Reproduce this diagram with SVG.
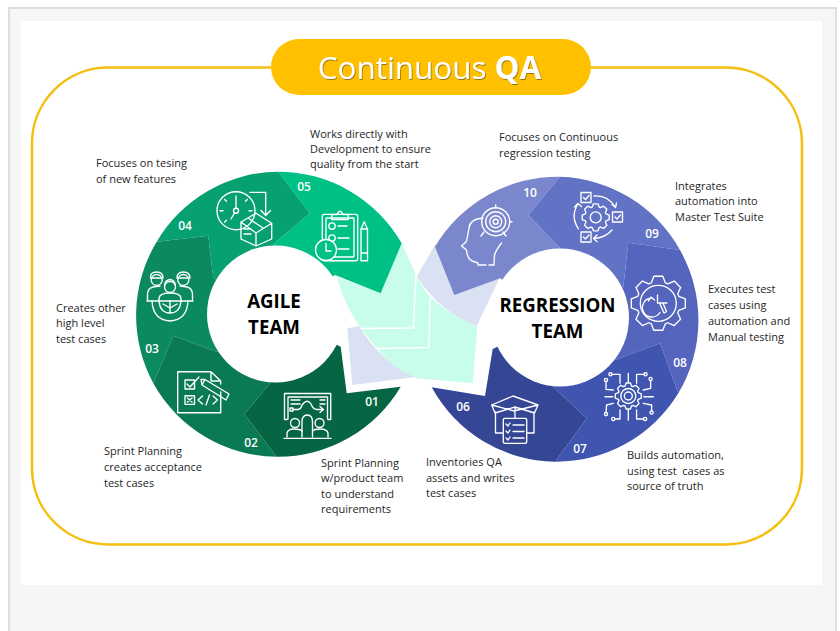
<svg xmlns="http://www.w3.org/2000/svg" width="840" height="631" viewBox="0 0 840 631">
<style>
text{font-family:"Open Sans","Noto Sans","Liberation Sans",sans-serif}
.l{font-size:11px;fill:#262626}
.n{font-size:12px;font-weight:600;fill:#fff;text-anchor:middle}
.t{font-size:18.7px;font-weight:700;fill:#000;text-anchor:middle}
.i,.i *{fill:none;stroke:#fff;stroke-width:1.35;stroke-linecap:round;stroke-linejoin:round}
.g{vector-effect:non-scaling-stroke}
</style>
<defs>
<path id="gear" class="g" d="M-7,-20.5L-4.5,-27 4.5,-27 7,-20.5 9.55,-19.45 15.9,-22.27 22.27,-15.9 19.45,-9.55 20.5,-7 27,-4.5 27,4.5 20.5,7 19.45,9.55 22.27,15.9 15.9,22.27 9.55,19.45 7,20.5 4.5,27 -4.5,27 -7,20.5 -9.55,19.45 -15.9,22.27 -22.27,15.9 -19.45,9.55 -20.5,7 -27,4.5 -27,-4.5 -20.5,-7 -19.45,-9.55 -22.27,-15.9 -15.9,-22.27 -9.55,-19.45Z"/>
<filter id="sh" x="-5%" y="-20%" width="110%" height="140%"><feDropShadow dx="0.8" dy="1" stdDeviation="0.6" flood-color="#7a5c00" flood-opacity="0.75"/></filter>
</defs>
<rect width="840" height="631" fill="#fff"/>
<rect x="9" y="8" width="827" height="630" fill="#f6f6f6" stroke="#dedede" stroke-width="2"/>
<rect x="21" y="21" width="801" height="564" fill="#fff"/>
<rect id="frame" x="32" y="67.5" width="770" height="477" rx="76" fill="none" stroke="#f5bf12" stroke-width="2.5"/>

<g id="overlaps">
<path d="M435,245L416.7,276.7Q440,312 476.7,326L500,277Z" fill="#d9e1f2"/>
<path d="M347.3,328.3L359.3,326Q380,362 416,377L352.3,385Z" fill="#d9e1f2"/>
<path d="M401.7,243.3L381,293.3 336.7,276.7Q344,304 360,327L376.7,348Q392,368 416.7,378.3L472.7,383.3 477.3,326.7Q450,315 431.7,298.3Q422,288 416,275Z" fill="#c8fdec"/>
<path d="M360.5,328.5L413.5,328 416,275M376.7,348.5L429,347.5 430,297" fill="none" stroke="#fff" stroke-width="1.5"/>
</g>

<g id="seg05"><path d="M278.3,171.7A142.5,142.5 0 0 1 401.7,243.3L380.7,293.3 335,275 275,314 273.3,244 310,213.3Z" fill="#00c185"/>
<g class="i"><rect x="322.3" y="214.3" width="35.4" height="46.4" rx="2"/><rect x="326" y="218" width="28" height="39" rx="1"/><path d="M331.7,219.5V214.5H337Q340,208 343,214.5H348.3V219.5Z"/><circle cx="332" cy="226" r="3.2"/><circle cx="332" cy="238" r="3.2"/><path d="M338,226H347M338,238H349M338,249H349"/><path d="M361,260.7V229L364.2,221.7 367.5,229V260.7ZM361,229H367.5M361,253H367.5"/><circle cx="326" cy="250" r="10.5" style="fill:#00c185"/><path d="M326,243.5V251H331"/></g>
<text class="n" x="304" y="191">05</text></g>

<g id="seg04"><path d="M156.7,241.7A142.5,142.5 0 0 1 278.3,171.7L310,213.3 273.3,244 275,314 213.3,278 208.3,235.7Z" fill="#07a070"/>
<g class="i"><circle cx="236" cy="210.7" r="19"/><circle cx="236" cy="210.7" r="2.5"/><path d="M236,208V196M234.5,213L231,219M252,210.7H249M223,210.7H220M247.3,199.4L245.5,201.2M224.7,199.4L226.5,201.2M224.7,222L226.5,220.2"/><path d="M250,192.3H265.7V215M261,210.5L265.7,215.5 270.5,210.5"/><path d="M241,222L256,213.3 271.7,223.3 256,233ZM241,222V239L256,246 271.7,239V223.3M256,233V246M248,218L263,228M244,229H251M244,234H251"/></g>
<text class="n" x="185" y="230">04</text></g>

<g id="seg03"><path d="M153.3,383.3A142.5,142.5 0 0 1 156.7,241.7L208.3,235.7 213.3,278 275,314 216.7,351.7 173.3,335.7Z" fill="#0b8a60"/>
<g class="i"><circle cx="156.7" cy="280" r="5.5"/><circle cx="183.3" cy="280" r="5.5"/><circle cx="170" cy="287" r="5.5"/><path d="M150.5,278Q150,272 156.7,272 163,272 163,278H150.5M177,278Q177,272 183.3,272 190,272 190,278H177M164.5,286Q165,280 170,279.5 175,280 175.5,286"/><path d="M147.5,301V294Q148,288 153,287L160,286M192.5,301V294Q192,288 187,287L180,286M159,301V298Q160,293 170,293 180,293 181,298V301M147,301H193"/><path d="M152,301Q153,320 170,321 187,320 188,301"/><path d="M159,301Q160,313 170,313 180,313 181,301M170,301V313M163,304L170,308 177,304"/></g>
<text class="n" x="152" y="353">03</text></g>

<g id="seg02"><path d="M276.7,456.7A142.5,142.5 0 0 1 153.3,383.3L173.3,335.7 216.7,351.7 275,314 270,383.3 244.3,414.3Z" fill="#0a7a55"/>
<g class="i"><path d="M211,371.7H177.7V412.7H220.7V392M211,371.7V381H220.7V384M211,371.7L220.7,381"/><rect x="185" y="380" width="9.5" height="9"/><path d="M187,384L190,387 199,377"/><rect x="185" y="395.7" width="9.5" height="8.6"/><path d="M187.5,398L192,402M192,398L187.5,402"/><path d="M202.5,396L198,400 202.5,404M206,405L209.5,395M213,396L217.5,400 213,404"/><path d="M202,385L205,379.5 229,394 226,400Z M205,379.5L201,379.5 202,385"/></g>
<text class="n" x="251" y="447">02</text></g>

<g id="seg01"><path d="M400.7,386.7A142.5,142.5 0 0 1 276.7,456.7L244.3,414.3 270,383.3 275,314 340.7,346.7 346.7,393.3Z" fill="#066644"/>
<g class="i"><path d="M287,419.5H284.5V393.5H330.7V419.5H328M288,419V397H327.5V419"/><path d="M291,400H300M291,404H300M320,400H325M320,404H325"/><rect x="290" y="408" width="3" height="3"/><path d="M293,409.5H298Q301,409 302,405 307,398 311,404 313,409.5 317,409.5H323M320,406.5L323.5,409.5 320,412.5"/><circle cx="295" cy="423" r="4.5"/><circle cx="319.5" cy="423" r="4.5"/><path d="M302,437V422Q302,415 307.3,415 312.5,415 312.5,422V437"/><path d="M287,437V433Q288,429 294,429 300,429 302,431M328,437V433Q327,429 320,429 314,429 312.5,431"/><path d="M284,438.3H331"/></g>
<text class="n" x="372" y="406">01</text></g>

<g id="seg10"><path d="M435,246.7A143,143 0 0 1 560,176.7L528.3,215 560,248 560,317.5 500,278.3 454.3,295Z" fill="#7b87cc"/>
<g class="i"><circle cx="495.7" cy="221.7" r="14"/><circle cx="495.7" cy="221.7" r="10"/><circle cx="495.7" cy="221.7" r="6"/><circle cx="495.7" cy="221.7" r="2.5"/><path d="M495.7,205V208M512,221.7H510M481,236L484,232M506,236L503,232"/><path d="M483,218Q470,219 469,228 467,240 466,242L461.5,246 466.5,250Q467,258 472,261L478,263 478,265H486M489,265H494L494.5,255Q496,250 501.5,243"/></g>
<text class="n" x="530" y="197">10</text></g>

<g id="seg09"><path d="M560,176.7A143,143 0 0 1 680,250L628.3,242.7 623.3,286.7 560,317.5 560,248 528.3,215Z" fill="#6272c4"/>
<g class="i"><use href="#gear" transform="translate(595.7,217.3) scale(.5)"/><circle cx="595.7" cy="217.3" r="5.5"/><rect x="581" y="192.5" width="10" height="10"/><rect x="612.5" y="212" width="10" height="10"/><rect x="581" y="232" width="10" height="10"/><path d="M583.5,197.5L585.5,199.5 589,195.5M615,217L617,219 620.5,215M583.5,237L585.5,239 589,235"/><path d="M594,196Q608,195 615,207M612,204.5L615.5,207.5 616.5,203M612,230Q605,238 594,238.5M597,235L593.5,238.5 597,241.5M578.5,229Q570,216 578,204M574.5,207L578,203.5 581.5,206.5"/></g>
<text class="n" x="652" y="238">09</text></g>

<g id="seg08"><path d="M680,250A143,143 0 0 1 678.3,393.3L660,343.3 612,361 560,317.5 623.3,286.7 628.3,242.7Z" fill="#5565bd"/>
<g class="i"><use href="#gear" transform="translate(658.3,303.3)"/><circle cx="658.3" cy="303.3" r="18"/><path d="M651.5,298A9.5,9.5 0 1 0 660,312.5M648.5,301L651,297 654.5,300M657.5,295V303H667M660,304L664,313 666.5,311.5 663,303"/></g>
<text class="n" x="680" y="367">08</text></g>

<g id="seg07"><path d="M678.3,393.3A143,143 0 0 1 555,461.7L586.7,418.3 553,386.7 560,317.5 612,361 660,343.3Z" fill="#3f55b0"/>
<g class="i"><use href="#gear" transform="translate(628.3,396) scale(.48)"/><circle cx="628.3" cy="396" r="7.5"/><circle cx="628.3" cy="396" r="4"/>
<g transform="translate(628.3,396)"><path d="M-16,-21.7H-8.3V-12.7M0,-22.7V-14M15.5,-21.7H8.3V-12.7M22.3,-15.5V-7.7L15,-6M-22.3,-14.5V-6.7L-15,-6M-23.3,.7H-15.5M25,.7H15.5M-22.3,16.5L-21.7,9 -15,7.3M-13.5,23H-8.3V14M0,14V24M15.2,23H8.3V14M23.3,14.8V9L15,7.3"/><circle cx="-17.8" cy="-21.7" r="1.6"/><circle cx="17.2" cy="-21.7" r="1.6"/><circle cx="22.3" cy="-17.1" r="1.6"/><circle cx="-22.3" cy="-16.1" r="1.6"/><circle cx="-22.3" cy="18.1" r="1.6"/><circle cx="-15.1" cy="23" r="1.6"/><circle cx="16.8" cy="23" r="1.6"/><circle cx="23.3" cy="16.4" r="1.6"/></g></g>
<text class="n" x="580" y="453">07</text></g>

<g id="seg06"><path d="M555,461.7A143,143 0 0 1 431.7,387.3L485,396 492.7,349 560,317.5 553,386.7 586.7,418.3Z" fill="#354695"/>
<g class="i"><path d="M491.7,405L513,396 538,405 534.5,413 515,407 495,413ZM491.7,405L514,411 538,405M515,407V418"/><path d="M495.5,412V433H503M534,412V433H527"/><rect x="503.3" y="418.3" width="23.4" height="25" rx="1.5"/><path d="M506,424L508,426 510,423M506,431L508,433 510,430M506,438L508,440 510,437M513,425H524M513,431.5H524M513,438H524"/></g>
<text class="n" x="463" y="411">06</text></g>

<g id="hubs"><circle cx="275.5" cy="314" r="68.5" fill="#fff"/><circle cx="560" cy="317.5" r="69" fill="#fff"/></g>

<g id="agile"><text class="t" x="274" y="308">AGILE</text><text class="t" x="274" y="334">TEAM</text></g>
<g id="regression"><text class="t" x="557.5" y="312">REGRESSION</text><text class="t" x="557.5" y="338">TEAM</text></g>

<g id="title"><rect x="271" y="39" width="320" height="56" rx="28" fill="#ffc000"/><text x="429.5" y="79" text-anchor="middle" font-size="31.4" fill="#fff" filter="url(#sh)">Continuous <tspan font-weight="700">QA</tspan></text></g>

<g id="labels">
<text class="l" x="310" y="137.5">Works directly with</text><text class="l" x="310" y="153">Development to ensure</text><text class="l" x="310" y="168">quality from the start</text>
<text class="l" x="96" y="167">Focuses on tesing</text><text class="l" x="96" y="183">of new features</text>
<text class="l" x="56" y="311.5">Creates other</text><text class="l" x="56" y="327">high level</text><text class="l" x="56" y="343">test cases</text>
<text class="l" x="104" y="455">Sprint Planning</text><text class="l" x="104" y="471">creates acceptance</text><text class="l" x="104" y="487">test cases</text>
<text class="l" x="321" y="467">Sprint Planning</text><text class="l" x="321" y="482">w/product team</text><text class="l" x="321" y="498">to understand</text><text class="l" x="321" y="513">requirements</text>
<text class="l" x="426" y="466">Inventories QA</text><text class="l" x="426" y="482">assets and writes</text><text class="l" x="426" y="497">test cases</text>
<text class="l" x="627" y="459">Builds automation,</text><text class="l" x="627" y="475" xml:space="preserve">using test  cases as</text><text class="l" x="627" y="490">source of truth</text>
<text class="l" x="708" y="293">Executes test</text><text class="l" x="708" y="309">cases using</text><text class="l" x="708" y="325">automation and</text><text class="l" x="708" y="341">Manual testing</text>
<text class="l" x="675" y="190">Integrates</text><text class="l" x="675" y="205">automation into</text><text class="l" x="675" y="221">Master Test Suite</text>
<text class="l" x="499" y="141">Focuses on Continuous</text><text class="l" x="499" y="157">regression testing</text>
</g>
</svg>
